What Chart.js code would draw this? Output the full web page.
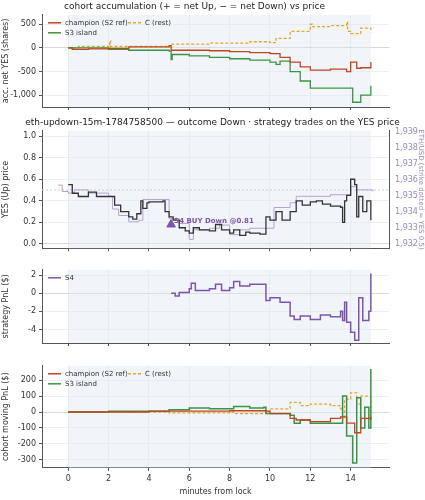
<!DOCTYPE html>
<html><head><meta charset="utf-8">
<script src="https://cdn.jsdelivr.net/npm/chart.js@4"></script>
<style>
body{margin:0;background:#fff;width:425px;height:500px;position:relative;font-family:"DejaVu Sans",sans-serif;overflow:hidden}
canvas{position:absolute;left:0}
#c1{top:0px} #c2{top:116px} #c3{top:262px} #c4{top:358px}
</style></head><body>
<canvas id="c1"></canvas>
<canvas id="c2"></canvas>
<canvas id="c3"></canvas>
<canvas id="c4"></canvas>
<script>
// panel 1: accumulated net YES shares
const accChampT = [0,0.2,1,2,3,5,5.1,7,8,9,10,10.5,11,11.5,12,13,13.8,14,14.3,14.5,15,15];
const accChampV = [0,-30,-20,-10,20,50,-50,-60,-80,-100,-120,-200,-300,-400,-470,-450,-500,-300,-430,-420,-420,-300];
const accS3T = [0,2,3,5,5.1,5.15,6,7,8,9,10,10.3,10.5,11,11.5,12,13,14,14.1,14.5,15,15];
const accS3V = [0,-30,-50,-70,-250,-140,-170,-200,-230,-260,-300,-350,-280,-500,-700,-850,-850,-850,-1150,-1000,-1000,-800];
const accCT = [0,0.5,2,2.05,2.1,5,5.1,7,9,10,10.3,11,12,12.1,13,13.8,13.85,14,14.5,15,15];
const accCV = [0,30,20,150,30,20,80,100,130,110,200,350,500,450,470,550,350,300,420,420,330];
// panel 2: YES price and ETH
const yesT = [0,0.2,0.5,1,1.4,2,2.3,2.6,3,3.2,3.4,3.6,3.7,3.9,4,4.7,4.8,5,5.2,5.5,5.8,6,6.2,6.5,7,7.3,7.6,8,8.2,8.5,8.8,9,9.5,9.8,10,10.3,10.6,11,11.3,11.6,12,12.3,12.6,13,13.5,13.6,13.7,13.8,14,14.2,14.3,14.4,14.6,14.8,15];
const yesV = [0.55,0.47,0.44,0.48,0.44,0.44,0.36,0.3,0.25,0.23,0.28,0.4,0.33,0.38,0.39,0.4,0.3,0.25,0.22,0.15,0.12,0.1,0.15,0.13,0.12,0.18,0.13,0.1,0.13,0.08,0.11,0.1,0.09,0.25,0.22,0.3,0.22,0.3,0.4,0.36,0.39,0.4,0.37,0.35,0.34,0.2,0.4,0.45,0.6,0.55,0.25,0.44,0.3,0.4,0.22];
const ethT = [-0.5,-0.3,0,0.3,1,2,2.2,2.5,3,3.5,3.7,4,4.5,5,5.5,6,6.2,7,7.5,8,8.5,9,10,10.2,10.5,11,11.3,12,13,13.8,14,14.3,15.1];
const ethV = [1935.7,1935.3,1935.2,1935.4,1935.2,1935.0,1934.2,1933.8,1933.4,1933.5,1934.8,1934.8,1934.8,1933.6,1933.3,1932.3,1932.9,1933.0,1933.2,1932.6,1932.9,1933.0,1933.0,1934.3,1934.3,1934.6,1935.0,1935.0,1935.1,1935.1,1935.6,1935.4,1935.3];
const tradeT = [5.1], tradeV = [0.18], tradeLabel = 'S4 BUY Down @0.81';
// panel 3: strategy PnL
const s4T = [5.1,5.3,5.5,6,6.1,6.3,7,7.3,7.6,8,8.2,8.5,9,9.7,9.8,10,10.5,11,11.2,11.5,12,12.5,13,13.5,13.6,13.7,13.8,14,14.2,14.4,14.6,14.9,15];
const s4V = [0,-0.3,0.1,0.5,1.1,0.3,0.5,1.0,0.3,0.6,1.3,0.8,1.0,1.0,-0.8,-0.5,-1.0,-2.5,-2.9,-2.5,-2.9,-2.4,-2.6,-2.0,-3.0,-1.0,-3.2,-4.3,-5.2,-0.5,-3.0,-2.0,2.2];
// panel 4: cohort moving PnL
const pnlChampT = [0,4,8,9.8,10,11,11.3,12,13,13.5,13.8,14.2,14.5,15];
const pnlChampV = [0,5,8,5,-10,-40,-50,-60,-40,-30,-70,-130,-40,-50];
const pnlS3T = [0,2,5,6,7,8.2,9,9.7,9.8,11,11.2,11.5,12,13.5,13.6,13.8,14.1,14.3,14.5,14.7,14.9,15];
const pnlS3V = [0,5,15,25,20,35,25,30,-10,-20,-70,-50,-70,-70,100,-150,-320,90,-100,30,-100,270];
const pnlCT = [0,5,8,8.2,9.8,10,11,11.5,12,13,13.5,13.6,13.7,14,14.3,14.5,15,15];
const pnlCV = [0,-5,0,-10,5,20,60,40,50,40,20,-40,80,120,50,100,80,-40];

const RED='#c0461f', GREEN='#3b9441', GOLD='#e3a82b', PURPLE='#7d55aa', LPURP='#b5a1d4';
const pts = (t,v) => t.map((x,i)=>({x,y:v[i]}));
Chart.defaults.font.family = '"DejaVu Sans"';
Chart.defaults.font.size = 8;
Chart.defaults.color = '#333';
Chart.defaults.animation = false;

const band = {id:'band', beforeDatasetsDraw(c){
  const {ctx, chartArea:a, scales:{x}} = c;
  ctx.save(); ctx.fillStyle='rgba(225,232,245,0.45)';
  const l=x.getPixelForValue(0), r=x.getPixelForValue(15);
  ctx.fillRect(l,a.top,r-l,a.bottom-a.top); ctx.restore();
}};
const legendIn = {id:'legendIn', afterDraw(c, args, o){
  if(!o.items) return;
  const {ctx, chartArea:a} = c; ctx.save(); ctx.font='7px "DejaVu Sans"';
  o.items.forEach((it,i)=>{
    const col=i%2, row=Math.floor(i/2);
    const x=a.left+6+col*80, y=a.top+8+row*10;
    ctx.strokeStyle=it.c; ctx.lineWidth=1.5; ctx.setLineDash(it.d||[]);
    ctx.beginPath(); ctx.moveTo(x,y); ctx.lineTo(x+13,y); ctx.stroke(); ctx.setLineDash([]);
    ctx.fillStyle='#333'; ctx.textBaseline='middle'; ctx.fillText(it.t,x+17,y);
  }); ctx.restore();
}};
const tradeText = {id:'tradeText', afterDatasetsDraw(c){
  if(c.canvas.id!=='c2') return;
  const {ctx, scales:{x,y}} = c; ctx.save();
  ctx.font='bold 7px "DejaVu Sans"'; ctx.fillStyle=PURPLE;
  ctx.fillText(tradeLabel, x.getPixelForValue(tradeT[0])+3, y.getPixelForValue(tradeV[0]+0.01));
  ctx.restore();
}};

function line(label, t, v, color, opt={}) {
  return Object.assign({label, data:pts(t,v), borderColor:color, borderWidth:1.3, pointRadius:0, stepped:true, fill:false}, opt);
}
function xScale(show) {
  return {type:'linear', min:-1.3, max:15.9, border:{color:'#555'},
    grid:{color:'#eceff3', drawTicks:true, tickColor:'#555', tickLength:3},
    ticks:{display:show},
    afterBuildTicks:s=>{s.ticks=[0,2,4,6,8,10,12,14].map(v=>({value:v}));},
    title:{display:show, text:'minutes from lock', padding:1}};
}
function yScale(title, min, max, ticks) {
  return {type:'linear', min, max, border:{color:'#555'},
    grid:{color:(c)=>c.tick&&c.tick.value===0?'#d8d8d8':'#eceff3', tickColor:'#555', tickLength:3},
    afterBuildTicks:s=>{s.ticks=ticks.map(v=>({value:v}));},
    title:{display:true, text:title, padding:1}, afterFit:s=>{s.width=42;}};
}
function make(id, h, datasets, scales, extra={}) {
  const cv = document.getElementById(id); cv.width=425; cv.height=h;
  return new Chart(cv, {type:'line', data:{datasets},
    options:{responsive:false, maintainAspectRatio:false,
      layout:{padding:{right:extra.padRight===undefined?36:extra.padRight, top:extra.padTop||0, bottom:extra.padBottom||0}},
      plugins:{legend:{display:false}, tooltip:{enabled:false},
        title:extra.title?{display:true, text:extra.title, font:{size:9, weight:'normal'}, padding:{top:1,bottom:3}, color:'#222'}:{display:false},
        legendIn:{items:extra.legend}},
      scales},
    plugins:[band, legendIn, tradeText]});
}

const cohortLegend = [{t:'champion (S2 ref)',c:RED},{t:'C (rest)',c:GOLD,d:[3,2]},{t:'S3 island',c:GREEN}];

make('c1', 116, [
  line('champion', accChampT, accChampV, RED),
  line('S3', accS3T, accS3V, GREEN),
  line('C', accCT, accCV, GOLD, {borderDash:[3,2]})
], {x:xScale(false), y:yScale('acc. net YES (shares)', -1250, 700, [500,0,-500,-1000])},
 {title:'cohort accumulation (+ = net Up, \u2212 = net Down) vs price', legend:cohortLegend, padBottom:6});

const s2y = yScale('YES (Up) price', -0.04, 1.05, [0,0.2,0.4,0.6,0.8,1.0]);
s2y.ticks = {callback:v=>v.toFixed(1)};
make('c2', 140, [
  line('YES', yesT, yesV, '#333'),
  line('ETH', ethT, ethV, LPURP, {yAxisID:'y2', borderWidth:1}),
  {label:'strike', data:[{x:-1.3,y:0.5},{x:15.9,y:0.5}], borderColor:'#c9cfd8', borderDash:[2,2], borderWidth:1, pointRadius:0},
  {type:'scatter', label:'trade', data:pts(tradeT,tradeV), pointStyle:'triangle', pointRadius:5, backgroundColor:PURPLE, borderColor:PURPLE}
], {x:xScale(false), y:s2y,
  y2:{type:'linear', position:'right', min:1931.75, max:1939.1, border:{color:'#555'}, grid:{display:false, tickColor:'#555', tickLength:3},
    afterBuildTicks:s=>{s.ticks=[1932,1933,1934,1935,1936,1937,1938,1939].map(v=>({value:v}));},
    ticks:{color:'#9b85c4'}, title:{display:true, text:'ETH/USD (strike dotted = YES 0.5)', color:'#9b85c4', font:{size:7}, padding:0},
    afterFit:s=>{s.width=36;}}},
 {title:'eth-updown-15m-1784758500 \u2014 outcome Down \u00b7 strategy trades on the YES price', padBottom:4, padRight:0});

make('c3', 90, [line('S4', s4T, s4V, PURPLE, {borderWidth:1.5})],
 {x:xScale(false), y:yScale('strategy PnL ($)', -5.5, 2.6, [2,0,-2,-4])},
 {legend:[{t:'S4',c:PURPLE}], padTop:6, padBottom:6});

make('c4', 142, [
  line('champion', pnlChampT, pnlChampV, RED),
  line('S3', pnlS3T, pnlS3V, GREEN, {borderWidth:1.5}),
  line('C', pnlCT, pnlCV, GOLD, {borderDash:[3,2]})
], {x:xScale(true), y:yScale('cohort moving PnL ($)', -350, 290, [200,100,0,-100,-200,-300])},
 {legend:cohortLegend, padTop:6, padBottom:2});
</script>
</body></html>
